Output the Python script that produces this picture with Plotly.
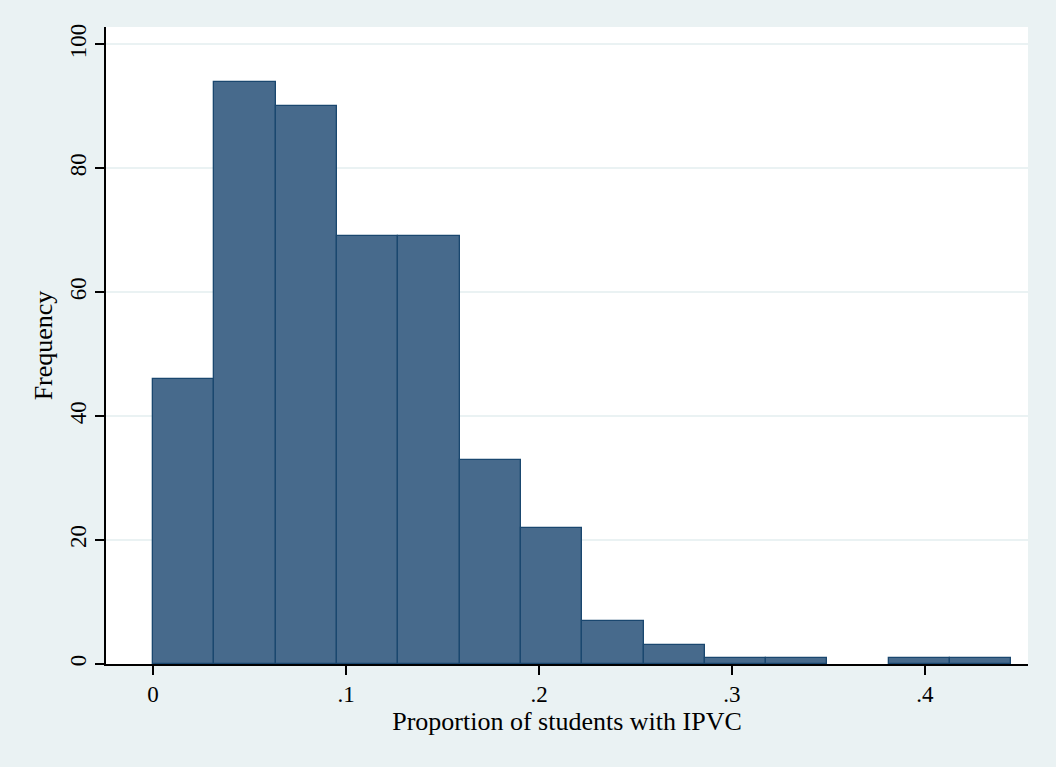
import plotly.graph_objects as go

bin_start = 0.0
bin_width = 0.03177
counts = [46, 94, 90, 69, 69, 33, 22, 7, 3, 1, 1, 0, 1, 1]
x_tick_vals = [0, 0.1, 0.2, 0.3, 0.4]
x_tick_text = ["0", ".1", ".2", ".3", ".4"]
y_tick_vals = [0, 20, 40, 60, 80, 100]
y_tick_text = ["0", "20", "40", "60", "80", "100"]

centers = [bin_start + bin_width * (i + 0.5) for i in range(len(counts))]
line_widths = [1.3 if c > 0 else 0 for c in counts]

font_family = "Liberation Serif, Times New Roman, serif"

fig = go.Figure(
    go.Bar(
        x=centers,
        y=counts,
        width=[bin_width] * len(counts),
        marker=dict(color="#476A8C", line=dict(color="#1A476F", width=line_widths)),
        hoverinfo="x+y",
    )
)

fig.update_layout(
    width=1056,
    height=767,
    paper_bgcolor="#EAF2F3",
    plot_bgcolor="#FFFFFF",
    margin=dict(l=106, r=28, t=27, b=103),
    font=dict(family=font_family, size=23, color="#000000"),
    showlegend=False,
    bargap=0,
)

fig.update_xaxes(
    range=[-0.0244, 0.4534],
    tickvals=x_tick_vals,
    ticktext=x_tick_text,
    ticks="outside",
    ticklen=9,
    tickwidth=1.5,
    tickcolor="#000000",
    showline=True,
    linecolor="#000000",
    linewidth=1.5,
    showgrid=False,
    zeroline=False,
    tickfont=dict(size=23),
    title=dict(text="Proportion of students with IPVC", standoff=4, font=dict(size=26)),
)

fig.update_yaxes(
    range=[0, 102.8],
    tickvals=y_tick_vals,
    ticktext=y_tick_text,
    tickangle=-90,
    ticks="outside",
    ticklen=9,
    tickwidth=1.5,
    tickcolor="#000000",
    showline=True,
    linecolor="#000000",
    linewidth=1.5,
    showgrid=True,
    gridcolor="#EAF2F3",
    gridwidth=1.5,
    zeroline=False,
    tickfont=dict(size=23),
    title=dict(text="Frequency", standoff=6, font=dict(size=26)),
)

fig.write_html(
    "out.html",
    config={"displayModeBar": False},
    post_script="document.body.style.margin='0';document.body.style.padding='0';",
)
